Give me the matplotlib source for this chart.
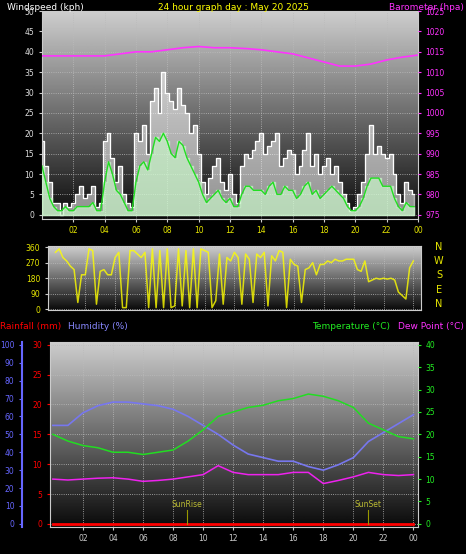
import numpy as np
import matplotlib.pyplot as plt

# wind, 15 min steps
gust = [18, 12, 8, 3, 3, 0, 3, 2, 3, 5, 7, 4, 5, 7, 2, 3,
        18, 20, 14, 8, 12, 5, 3, 2, 20, 18, 22, 15, 28, 31, 25, 35,
        30, 28, 26, 31, 27, 25, 20, 22, 15, 8, 5, 9, 12, 14, 8, 6,
        10, 5, 3, 12, 15, 14, 16, 18, 20, 15, 17, 18, 20, 12, 14, 16,
        15, 10, 12, 16, 20, 12, 15, 10, 12, 14, 10, 12, 8, 5, 3, 1,
        2, 5, 8, 15, 22, 15, 17, 15, 14, 15, 10, 5, 3, 8, 6, 5]
avg = [12, 8, 4, 2, 1, 1, 2, 1, 1, 2, 2, 2, 2, 3, 1, 1,
       8, 13, 10, 6, 5, 3, 1, 1, 8, 12, 13, 11, 15, 19, 18, 20,
       18, 15, 14, 18, 17, 14, 12, 10, 8, 5, 3, 4, 5, 6, 4, 3,
       4, 2, 2, 5, 7, 7, 6, 6, 6, 5, 7, 8, 5, 5, 7, 6,
       6, 4, 5, 7, 8, 5, 6, 4, 5, 6, 7, 6, 5, 4, 2, 1,
       1, 2, 4, 7, 9, 9, 9, 7, 7, 7, 4, 2, 1, 3, 2, 2]
wdir = [330, 350, 300, 280, 250, 230, 40, 200, 200, 350, 340, 30, 220, 230, 200, 200,
        300, 330, 10, 10, 340, 340, 320, 300, 330, 10, 350, 10, 340, 10, 350, 10,
        20, 350, 20, 340, 10, 350, 10, 350, 340, 330, 10, 50, 320, 30, 300, 280,
        330, 300, 30, 320, 290, 40, 320, 300, 330, 20, 310, 280, 340, 330, 10, 290,
        260, 250, 40, 230, 240, 270, 200, 260, 260, 280, 270, 290, 280, 280, 290, 290,
        290, 230, 220, 280, 160, 170, 180, 175, 180, 175, 180, 170, 100, 80, 60, 240]
# hourly
baro = [1014, 1014, 1014, 1014, 1014, 1014.5, 1015, 1015, 1015.5, 1016, 1016.3, 1016, 1016,
        1015.8, 1015.5, 1015, 1014.5, 1013.5, 1012.5, 1011.5, 1011.5, 1012, 1013, 1013.7, 1014.2]
humid = [55, 55, 62, 66, 68, 68, 67, 66, 64, 60, 55, 50, 44, 39, 37, 35, 35, 32, 30, 33, 37, 46, 51, 56, 61]
temp = [20, 18.5, 17.5, 17, 16, 16, 15.5, 16, 16.5, 18.5, 21, 24, 25, 26, 26.5, 27.5, 28, 29, 28.5,
        27.5, 26, 22.5, 21, 19.5, 19]
dew = [10, 9.8, 10, 10.2, 10.3, 10, 9.5, 9.7, 10, 10.5, 11, 13, 11.5, 11, 11, 11, 11.5, 11.5, 9,
       9.7, 10.5, 11.5, 11, 10.8, 11]
rain = [0] * 25
hour_labels = ["02", "04", "06", "08", "10", "12", "14", "16", "18", "20", "22", "00"]

t15 = np.arange(96) / 4
th = np.arange(25)
yl = "#e6e600"
fs = 5.5

fig = plt.figure(figsize=(4.66, 5.54), dpi=100, facecolor="black")
grad = np.linspace(0, 1, 256).reshape(-1, 1)


def base(ax, xlim):
    ax.set_facecolor("black")
    ax.imshow(grad, extent=[0, 1, 0, 1], transform=ax.transAxes, cmap="gray",
              vmin=-0.05, vmax=1.25, aspect="auto", zorder=0, origin="lower")
    ax.set_xlim(*xlim)
    ax.grid(color="#bbbbbb", ls=":", lw=0.6)
    ax.set_xticks(range(2, 25, 2), hour_labels, color=yl, fontsize=fs)
    for s in ax.spines.values():
        s.set_color("#cccccc")
    ax.tick_params(colors="#cccccc", length=2, labelsize=fs)


# windspeed
ax1 = fig.add_axes([0.090, 0.605, 0.807, 0.375])
base(ax1, (0, 24))
ax1.set_ylim(-1, 50)
ax1.set_yticks(range(0, 51, 5))
ax1.tick_params(axis="y", labelcolor="#dddddd")
ax1.tick_params(axis="x", labelcolor=yl)
ax1.fill_between(t15, 0, gust, step="mid", color="white", alpha=0.55, zorder=2)
ax1.step(t15, gust, where="mid", color="white", lw=0.8, zorder=2)
ax1.fill_between(t15, 0, avg, step="mid", color="#c8f5c8", alpha=0.7, zorder=3)
ax1.plot(t15, avg, color="#22dd22", lw=1, zorder=4)
axb = ax1.twinx()
axb.set_ylim(974, 1025)
axb.set_yticks(range(975, 1026, 5))
axb.tick_params(colors="#ff33ff", length=2, labelsize=fs)
axb.plot(th, baro, color="#ff33ff", lw=1.2)
for s in axb.spines.values():
    s.set_visible(False)

# direction
ax2 = fig.add_axes([0.103, 0.440, 0.800, 0.1155])
base(ax2, (-0.5, 24.5))
ax2.set_ylim(-5, 365)
ax2.set_yticks([0, 90, 180, 270, 360])
ax2.tick_params(axis="y", labelcolor=yl)
ax2.tick_params(axis="x", labelbottom=False, length=0)
ax2.plot(np.append(t15, 24), wdir + [280], color="#ffff00", lw=1.1, alpha=0.8)
for i, c in enumerate("NWSEN"):
    fig.text(0.942, 0.555 - i * 0.026, c, color=yl, fontsize=7, ha="center", va="center")

# temperature / humidity
ax3 = fig.add_axes([0.107, 0.049, 0.790, 0.334])
base(ax3, (-0.2, 24.3))
ax3.set_ylim(-0.5, 30.5)
ax3.set_yticks(range(0, 31, 5))
ax3.tick_params(axis="y", colors="red")
ax3.plot(th, rain, color="red", lw=2, zorder=5)
axh = ax3.twinx()
axh.yaxis.tick_left()
axh.spines["left"].set_position(("outward", 20))
axh.spines["left"].set_color("#6666ff")
axh.spines["left"].set_linewidth(1.5)
for s in ["right", "top", "bottom"]:
    axh.spines[s].set_visible(False)
axh.set_ylim(-100 / 60, 100 + 100 / 60)
axh.set_yticks(range(0, 101, 10))
axh.tick_params(colors="#6666ff", length=2, labelsize=fs)
axh.plot(th, humid, color="#7777ee", lw=1.2)
axt = ax3.twinx()
for s in axt.spines.values():
    s.set_visible(False)
axt.set_ylim(-40 / 60, 40 + 40 / 60)
axt.set_yticks(range(0, 41, 5))
axt.tick_params(colors="#22ee22", length=2, labelsize=fs)
axt.plot(th, temp, color="#22dd22", lw=1.1)
axt.plot(th, dew, color="#ee22ee", lw=1.1)
for x, lab in [(8.9, "SunRise"), (21.0, "SunSet")]:
    axt.plot([x, x], [0, 3], color="#999900", lw=0.8)
    axt.text(x, 3.3, lab, color="#bbbb33", fontsize=fs, ha="center", va="bottom")

fig.text(0.015, 0.995, "Windspeed (kph)", color="white", fontsize=6.5, va="top")
fig.text(0.5, 0.995, "24 hour graph day : May 20 2025", color="yellow", fontsize=6.5, va="top", ha="center")
fig.text(0.995, 0.995, "Barometer (hpa)", color="#ff33ff", fontsize=6.5, va="top", ha="right")
fig.text(0.0, 0.410, "Rainfall (mm)", color="red", fontsize=6.5, va="center")
fig.text(0.145, 0.410, "Humidity (%)", color="#8888ff", fontsize=6.5, va="center")
fig.text(0.67, 0.410, "Temperature (°C)", color="#22ee22", fontsize=6.5, va="center")
fig.text(0.995, 0.410, "Dew Point (°C)", color="#ff33ff", fontsize=6.5, va="center", ha="right")

fig.savefig("out.png", dpi=100, facecolor="black")
